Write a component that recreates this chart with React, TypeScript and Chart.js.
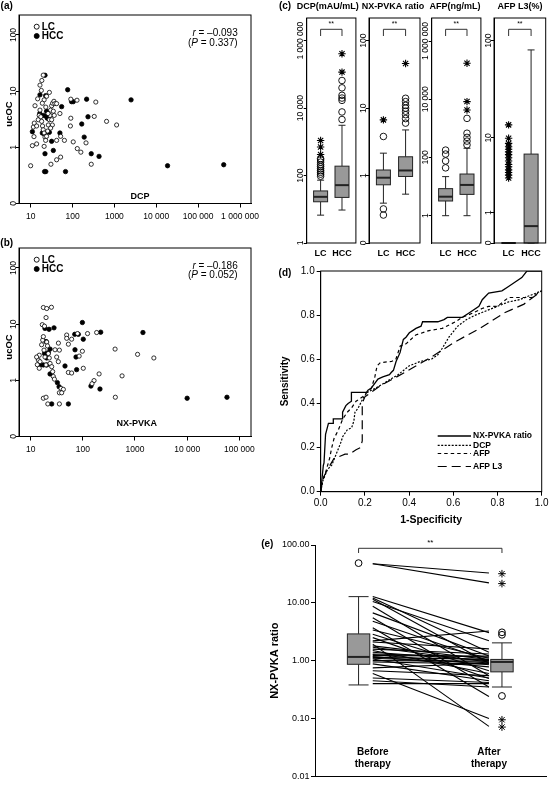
import React, { useEffect, useRef } from "react";
import { Chart, registerables } from "chart.js";

Chart.register(...registerables);

const FONT = "'Liberation Sans', Arial, Helvetica, sans-serif";
Chart.defaults.font.family = FONT;
Chart.defaults.color = "#000";

// ================= DATA =================
// (a) DCP (mAU/mL) vs ucOC  [x, y]
const dcpLC: number[][] = [
  [10, 0.47], [11, 1.07], [13.9, 1.15], [12, 1.55], [11.6, 2.3], [12.2, 2.7], [12.7, 5.5], [14.7, 7.3],
  [16.7, 12.8], [20, 19.3], [18, 10.3], [13.9, 2.4], [15.2, 3.1], [16, 3.7], [16.7, 4.6], [17.5, 3.5],
  [18.3, 2.9], [19.2, 2.4], [20, 2.05], [21, 1.8], [22, 1.52], [22.8, 1.33], [24, 1.57], [25.5, 1.95],
  [26.4, 2.5], [27.9, 3.1], [29, 3.7], [30, 4.6], [31.7, 5.5], [33.5, 6.1], [36, 6.6], [38, 6.0],
  [34.8, 4.4], [36.6, 3.7], [31.7, 3.1], [33, 2.5], [30, 2.2], [28, 9.5], [24, 8.1], [21, 7.0],
  [19, 6.1], [21, 1.04], [30.5, 0.5], [41.7, 0.6], [52, 0.67], [41.7, 1.33], [64, 1.33], [52, 1.57],
  [50, 4.0], [91, 7.2], [128, 6.9], [91, 3.3], [89, 2.4], [104, 1.25], [130, 0.95], [158, 0.82],
  [210, 1.2], [280, 0.5], [330, 3.55], [360, 6.4], [650, 2.9], [1130, 2.5], [41.7, 6.0], [26, 4.0],
  [23, 5.2], [18.5, 15.5],
];
const dcpHCC: number[][] = [
  [22, 19.2], [76.6, 10.6], [16.7, 8.6], [22.8, 8.3], [55, 5.3], [95, 6.5], [104, 6.5], [217, 7.2],
  [2500, 7.0], [234, 3.5], [166, 2.6], [11, 1.9], [19, 1.8], [21, 1.75], [28, 1.85], [50, 1.8],
  [190, 1.52], [31.7, 1.28], [22, 0.77], [34.8, 0.88], [280, 0.77], [430, 0.69], [21.5, 0.37], [23, 0.37],
  [68, 0.37], [18600, 0.47], [408000, 0.49], [23, 3.6], [25, 3.3], [20, 3.7], [16.5, 4.0], [24, 4.4],
];
const dcpStat = ["\u20130.093", "0.337"];

// (b) NX-PVKA vs ucOC
const nxLC: number[][] = [
  [17.5, 19.8], [20.3, 19], [25, 20], [19.7, 13.1], [16.7, 9.8], [18.4, 9.2], [14, 2.3], [15.1, 2.15],
  [14.6, 2.8], [16.2, 4.3], [17, 5.2], [17.5, 6.0], [18, 3.45], [18.8, 2.6], [19.7, 1.88], [20.3, 4.8],
  [21, 4.1], [21.8, 3.0], [22.7, 2.5], [23.5, 2.0], [25.3, 1.75], [26.4, 1.43], [27.2, 1.17], [28.5, 1.05],
  [29.3, 3.5], [31.5, 2.6], [33.9, 2.15], [34, 4.6], [35.5, 3.45], [17.5, 0.48], [19.7, 0.5], [21.3, 0.38],
  [35.5, 0.38], [35.5, 0.6], [38.2, 0.72], [42.3, 0.69], [39.3, 0.6], [49, 6.4], [49, 5.6], [52.8, 4.4],
  [61, 5.4], [79, 6.8], [123, 6.8], [184, 7.1], [52.8, 1.38], [61, 1.35], [102, 1.64], [98, 3.3],
  [85, 2.7], [205, 1.3], [164, 0.99], [150, 0.87], [415, 3.6], [565, 1.2], [420, 0.5], [1120, 2.9],
  [2300, 2.5], [14.6, 1.64], [13.4, 1.9], [13, 2.6],
];
const nxHCC: number[][] = [
  [28, 8.6], [22.5, 8.1], [98, 10.7], [102, 5.4], [70, 6.6], [82, 6.6], [220, 7.2], [1420, 7.1],
  [70.7, 3.5], [74, 2.6], [76, 1.55], [45.5, 1.8], [15.5, 1.9], [17.5, 1.88], [20.3, 1.88], [21.8, 3.1],
  [23.5, 3.6], [18.4, 3.0], [19.7, 4.9], [23.5, 1.3], [32.5, 0.91], [35, 0.77], [143, 0.79], [213, 0.7],
  [25.3, 0.38], [52.8, 0.38], [10000, 0.48], [58000, 0.5], [18.8, 8.4], [20.3, 2.5],
];
const nxStat = ["\u20130.186", "0.052"];

const aXTicks = [10, 100, 1000, 10000, 100000, 1000000];
const aXLabels = ["10", "100", "1000", "10 000", "100 000", "1 000 000"];
const bXTicks = [10, 100, 1000, 10000, 100000];
const bXLabels = ["10", "100", "1000", "10 000", "100 000"];
const ucTicks = [0.1, 1, 10, 100];
const ucLabels = ["0", "1", "10", "100"];

// (c) box plots: [lower whisker, Q1, median, Q3, upper whisker]
const groups = ["LC", "HCC"];
const cTitles = ["DCP(mAU/mL)", "NX-PVKA ratio", "AFP(ng/mL)", "AFP L3(%)"];
const dcpBoxLC = [6.7, 16.7, 23.4, 35, 73];
const dcpBoxHCC = [9.5, 22.5, 52, 190, 3100];
const dcpOutLC = [96, 110, 125, 140, 160, 185, 210, 250, 290, 320];
const dcpOutHCC = [4600, 7700, 17000, 19900, 24000, 40000, 66000];
const dcpExtLC = [420, 700, 1100];
const dcpExtHCC = [117000, 410000];
const nxBoxLC = [0.39, 0.73, 0.93, 1.21, 2.15];
const nxBoxHCC = [0.53, 0.97, 1.19, 1.9, 4.75];
const nxOutLC = [0.26, 0.32, 3.8];
const nxOutHCC = [6, 7, 8, 9, 10, 11, 12.5, 14];
const nxExtLC = [6.7];
const nxExtHCC = [46];
const afpBoxLC = [1, 3.2, 4.5, 8.5, 22];
const afpBoxHCC = [1, 5.4, 11.4, 27, 207];
const afpOutLC = [44, 76, 131, 179];
const afpOutHCC = [270, 365, 490, 680, 2200];
const afpExtLC: number[] = [];
const afpExtHCC = [4270, 8300, 173000];
const l3BoxLC = [0, 0, 0, 0, 0];
const l3BoxHCC = [0, 0, 0.47, 6.6, 80.8];
const l3OutLC: number[] = [];
const l3OutHCC: number[] = [];
const l3ExtLC = [3.4, 3.7, 4, 4.3, 4.7, 5, 5.5, 6, 6.5, 7, 7.5, 8, 8.7, 9.9, 13.8];
const l3ExtHCC: number[] = [];
const dcpTicks = [1, 100, 10000, 1000000];
const dcpLabels = ["1", "100", "10 000", "1 000 000"];
const nxTicks = [0.1, 1, 10, 100];
const nxLabels = ["0", "1", "10", "100"];
const afpTicks = [1, 100, 10000, 1000000];
const afpLabels = ["1", "100", "10 000", "1 000 000"];
const l3Ticks = [0, 1, 10, 100];
const l3Labels = ["0", "1", "10", "100"];

// (d) ROC curves [1-specificity, sensitivity]
const rocNX: number[][] = [
  [0, 0], [0.006, 0.06], [0.012, 0.12], [0.015, 0.13], [0.022, 0.26], [0.035, 0.31], [0.057, 0.31], [0.057, 0.33],
  [0.099, 0.33], [0.099, 0.36], [0.114, 0.39], [0.124, 0.40], [0.139, 0.41], [0.139, 0.45], [0.207, 0.45],
  [0.214, 0.46], [0.229, 0.47], [0.244, 0.49], [0.259, 0.51], [0.281, 0.52], [0.311, 0.53], [0.319, 0.54],
  [0.329, 0.55], [0.341, 0.59], [0.359, 0.63], [0.374, 0.69], [0.386, 0.70], [0.401, 0.72], [0.416, 0.73],
  [0.431, 0.74], [0.454, 0.75], [0.461, 0.77], [0.53, 0.77], [0.558, 0.78], [0.573, 0.79], [0.641, 0.79],
  [0.671, 0.81], [0.716, 0.84], [0.731, 0.87], [0.76, 0.90], [0.82, 0.91], [0.85, 0.93], [0.88, 0.95],
  [0.91, 0.97], [0.933, 1.0], [1, 1],
];
const rocDCP: number[][] = [
  [0, 0], [0.01, 0.05], [0.03, 0.1], [0.05, 0.12], [0.07, 0.17], [0.09, 0.22], [0.1, 0.25], [0.12, 0.28],
  [0.14, 0.29], [0.15, 0.32], [0.155, 0.36], [0.17, 0.38], [0.19, 0.42], [0.21, 0.45], [0.25, 0.47],
  [0.3, 0.5], [0.35, 0.53], [0.4, 0.57], [0.45, 0.59], [0.5, 0.6], [0.53, 0.62], [0.55, 0.65], [0.58, 0.7],
  [0.62, 0.75], [0.66, 0.78], [0.7, 0.8], [0.75, 0.82], [0.8, 0.84], [0.85, 0.86], [0.9, 0.87], [1, 0.91],
];
const rocAFP: number[][] = [
  [0, 0], [0.005, 0.04], [0.02, 0.08], [0.04, 0.15], [0.05, 0.2], [0.06, 0.24], [0.08, 0.28], [0.1, 0.33],
  [0.12, 0.36], [0.14, 0.38], [0.16, 0.41], [0.19, 0.43], [0.21, 0.45], [0.23, 0.47], [0.245, 0.52],
  [0.255, 0.57], [0.27, 0.585], [0.32, 0.59], [0.34, 0.6], [0.36, 0.66], [0.386, 0.67], [0.43, 0.71],
  [0.49, 0.73], [0.55, 0.74], [0.61, 0.77], [0.64, 0.79], [0.69, 0.81], [0.73, 0.83], [0.76, 0.84],
  [0.8, 0.84], [0.85, 0.88], [0.91, 0.88], [0.955, 0.88], [1, 0.91],
];
const rocL3: number[][] = [
  [0, 0], [0.01, 0.06], [0.03, 0.1], [0.06, 0.15], [0.11, 0.17], [0.13, 0.17], [0.16, 0.19], [0.18, 0.2],
  [0.188, 0.23], [0.188, 0.40], [0.2, 0.43], [0.27, 0.48], [0.38, 0.54], [0.5, 0.61], [0.61, 0.68],
  [0.72, 0.74], [0.83, 0.81], [0.92, 0.85], [1, 0.91],
];
const rocNames = ["NX-PVKA ratio", "DCP", "AFP", "AFP L3"];
const rocTicks = [0, 0.2, 0.4, 0.6, 0.8, 1.0];

// (e) NX-PVKA ratio before / after therapy (paired)
const beforeVals = [47.3, 47.3, 12.9, 12.1, 11.5, 10.5, 8.7, 6.7, 5.5, 4.8, 3.7, 3.4, 2.86, 2.5, 2.2, 2.1, 1.93,
  1.8, 1.7, 1.58, 1.5, 1.4, 1.3, 1.28, 1.22, 1.18, 1.14, 1.1, 1.07, 1.0, 0.95, 0.88, 0.75, 0.67, 0.6, 0.5, 0.45, 0.40];
const afterVals = [32.8, 22.1, 3.05, 1.4, 0.9, 2.2, 0.55, 1.2, 0.35, 1.0, 0.24, 1.1, 0.67, 0.49, 3.26, 1.6, 0.073,
  1.05, 0.95, 1.3, 0.6, 1.0, 1.15, 0.85, 1.2, 0.78, 1.05, 0.92, 0.5, 0.98, 0.88, 0.45, 0.9, 0.55, 0.1, 0.42, 0.35, 0.40];
const beforeBox = [0.38, 0.865, 1.16, 2.9, 12.8];
const afterBox = [0.35, 0.64, 0.95, 1.05, 2.03];
const beforeOut = [48.6];
const afterOut = [0.245, 2.8, 3.09];
const afterExt = [0.071, 0.095, 21.5, 31.9];
const eCats = [["Before", "therapy"], ["After", "therapy"]];
const eTicks = [0.01, 0.1, 1, 10, 100];
const eLabels = ["0.01", "0.10", "1.00", "10.00", "100.00"];

// ================= LAYOUT CONSTANTS =================
const ePos = [-0.122, 1.112]; // box positions on the (e) x scale

// ================= PLUGINS =================
type Seg = { t: string; it?: boolean };
type TextItem = { t?: string; segs?: Seg[]; x: number; y: number; size?: number; bold?: boolean; align?: string; rot?: number };

const textsPlugin = (items: TextItem[], id = "texts") => ({
  id,
  afterDraw(chart: any) {
    const ctx = chart.ctx;
    for (const it of items) {
      ctx.save();
      ctx.translate(it.x, it.y);
      if (it.rot) ctx.rotate(it.rot);
      ctx.fillStyle = "#000";
      ctx.textBaseline = "middle";
      ctx.textAlign = "left";
      const segs = it.segs || [{ t: it.t || "" }];
      const f = (s: Seg) => `${s.it ? "italic " : ""}${it.bold ? "bold " : ""}${it.size || 9}px ${FONT}`;
      let total = 0;
      for (const s of segs) { ctx.font = f(s); total += ctx.measureText(s.t).width; }
      const al = it.align || "center";
      let x = al === "left" ? 0 : al === "right" ? -total : -total / 2;
      for (const s of segs) { ctx.font = f(s); ctx.fillText(s.t, x, 0); x += ctx.measureText(s.t).width; }
      ctx.restore();
    }
  },
});

const framePlugin = (id = "frame") => ({
  id,
  afterDraw(chart: any) {
    const { ctx, chartArea: a } = chart;
    ctx.save();
    ctx.strokeStyle = "#000";
    ctx.lineWidth = 1;
    ctx.strokeRect(a.left, a.top, a.right - a.left, a.bottom - a.top);
    ctx.restore();
  },
});

const rotYPlugin = (labels: string[], gap: number, size: number) => ({
  id: "rotY",
  afterDraw(chart: any) {
    const s = chart.scales.y;
    const ctx = chart.ctx;
    ctx.save();
    ctx.font = `${size}px ${FONT}`;
    ctx.fillStyle = "#000";
    ctx.textAlign = "center";
    ctx.textBaseline = "alphabetic";
    s.ticks.forEach((t: any, i: number) => {
      const y = s.getPixelForValue(t.value);
      ctx.save();
      ctx.translate(chart.chartArea.left - gap, y);
      ctx.rotate(-Math.PI / 2);
      ctx.fillText(labels[i], 0, 0);
      ctx.restore();
    });
    ctx.restore();
  },
});

// category labels drawn at the x-scale positions, inside the plot (panel e)
const catLabelsPlugin = (vals: number[], labels: string[][], dy: number, lh: number, size: number) => ({
  id: "cats",
  afterDraw(chart: any) {
    const { ctx, chartArea: a } = chart;
    const xs = chart.scales.x;
    ctx.save();
    ctx.font = `bold ${size}px ${FONT}`;
    ctx.fillStyle = "#000";
    ctx.textAlign = "center";
    ctx.textBaseline = "middle";
    vals.forEach((v, i) => {
      const x = xs.getPixelForValue(v);
      labels[i].forEach((ln, j) => ctx.fillText(ln, x, a.bottom + dy + j * lh));
    });
    ctx.restore();
  },
});

type BoxSpec = { x: number; st: number[] };
const boxPlugin = (specs: BoxSpec[], tf: (v: number) => number, halfPx: number, capPx: number) => ({
  id: "boxes",
  beforeDatasetsDraw(chart: any) {
    const { ctx } = chart;
    const xs = chart.scales.x, ys = chart.scales.y;
    ctx.save();
    for (const b of specs) {
      const cx = xs.getPixelForValue(b.x);
      const [lo, q1, md, q3, hi] = b.st.map((v) => ys.getPixelForValue(tf(v)));
      ctx.strokeStyle = "#222";
      ctx.lineWidth = 1;
      ctx.beginPath();
      ctx.moveTo(cx, q3); ctx.lineTo(cx, hi);
      ctx.moveTo(cx - capPx, hi); ctx.lineTo(cx + capPx, hi);
      ctx.moveTo(cx, q1); ctx.lineTo(cx, lo);
      ctx.moveTo(cx - capPx, lo); ctx.lineTo(cx + capPx, lo);
      ctx.stroke();
      ctx.fillStyle = "#999";
      ctx.fillRect(cx - halfPx, q3, 2 * halfPx, q1 - q3);
      ctx.strokeRect(cx - halfPx, q3, 2 * halfPx, q1 - q3);
      ctx.lineWidth = 2;
      ctx.beginPath();
      ctx.moveTo(cx - halfPx, md); ctx.lineTo(cx + halfPx, md);
      ctx.stroke();
    }
    ctx.restore();
  },
});

const bracketPlugin = (x1: number, x2: number, yOff: number, drop: number, txtOff: number, size: number) => ({
  id: "bracket",
  afterDraw(chart: any) {
    const { ctx, chartArea: a } = chart;
    const xs = chart.scales.x;
    const p1 = xs.getPixelForValue(x1), p2 = xs.getPixelForValue(x2);
    const y = a.top + yOff;
    ctx.save();
    ctx.strokeStyle = "#333";
    ctx.lineWidth = 1;
    ctx.beginPath();
    ctx.moveTo(p1, y + drop); ctx.lineTo(p1, y); ctx.lineTo(p2, y); ctx.lineTo(p2, y + drop);
    ctx.stroke();
    ctx.font = `${size}px ${FONT}`;
    ctx.fillStyle = "#000";
    ctx.textAlign = "center";
    ctx.textBaseline = "middle";
    ctx.fillText("**", (p1 + p2) / 2, a.top + txtOff);
    ctx.restore();
  },
});

const scatterLegend = (dx: number, dy: number, step: number) => ({
  id: "scLegend",
  afterDraw(chart: any) {
    const { ctx, chartArea: a } = chart;
    chart.data.datasets.forEach((ds: any, i: number) => {
      const x = a.left + dx, y = a.top + dy + i * step;
      ctx.save();
      ctx.beginPath();
      ctx.arc(x, y, 2.5, 0, Math.PI * 2);
      ctx.fillStyle = ds.pointBackgroundColor;
      ctx.fill();
      ctx.lineWidth = 0.9;
      ctx.strokeStyle = "#000";
      ctx.stroke();
      ctx.font = `bold 10px ${FONT}`;
      ctx.fillStyle = "#000";
      ctx.textBaseline = "middle";
      ctx.textAlign = "left";
      ctx.fillText(ds.label, x + 5, y + 0.5);
      ctx.restore();
    });
  },
});

const rocLegend = (rows: number[]) => ({
  id: "rocLegend",
  afterDraw(chart: any) {
    const { ctx, chartArea: a } = chart;
    chart.data.datasets.forEach((ds: any, i: number) => {
      const y = a.bottom + rows[i];
      ctx.save();
      ctx.strokeStyle = "#000";
      ctx.lineWidth = ds.borderWidth;
      ctx.setLineDash(ds.borderDash || []);
      ctx.beginPath();
      ctx.moveTo(a.right - 104, y);
      ctx.lineTo(a.right - 70.7, y);
      ctx.stroke();
      ctx.setLineDash([]);
      ctx.font = `bold 8.5px ${FONT}`;
      ctx.fillStyle = "#000";
      ctx.textBaseline = "middle";
      ctx.textAlign = "left";
      ctx.fillText(ds.label, a.right - 68.7, y);
      ctx.restore();
    });
  },
});

// ================= CHART BUILDERS =================
const noPlug = { legend: { display: false }, tooltip: { enabled: false } };

function makeScatter(lc: number[][], hcc: number[][], xmin: number, xmax: number, xt: number[], xl: string[], texts: TextItem[]) {
  return {
    type: "scatter",
    data: {
      datasets: [
        { label: "LC", data: lc.map(([x, y]) => ({ x, y })), pointRadius: 2.1, pointBackgroundColor: "#fff", pointBorderColor: "#000", pointBorderWidth: 0.8 },
        { label: "HCC", data: hcc.map(([x, y]) => ({ x, y })), pointRadius: 2.2, pointBackgroundColor: "#000", pointBorderColor: "#000", pointBorderWidth: 0.8 },
      ],
    },
    options: {
      responsive: false, animation: false, devicePixelRatio: 1,
      layout: { padding: { left: 0, top: 15, right: 24, bottom: 0 } },
      plugins: noPlug,
      scales: {
        x: {
          type: "logarithmic", min: xmin, max: xmax,
          afterBuildTicks: (s: any) => { s.ticks = xt.map((v) => ({ value: v })); },
          afterFit: (s: any) => { s.height = 24.5; },
          ticks: { autoSkip: false, maxRotation: 0, minRotation: 0, font: { size: 8.5 }, padding: 4.5, callback: (_v: any, i: number) => xl[i] },
          grid: { display: true, drawOnChartArea: false, drawTicks: true, tickLength: 4, color: "#000" },
          border: { display: true, color: "#000" },
        },
        y: {
          type: "logarithmic", min: 0.1, max: 227,
          afterBuildTicks: (s: any) => { s.ticks = ucTicks.map((v) => ({ value: v })); },
          afterFit: (s: any) => { s.width = 19; },
          ticks: { color: "rgba(0,0,0,0)", font: { size: 8.5 }, callback: (_v: any, i: number) => ucLabels[i] },
          grid: { display: true, drawOnChartArea: false, drawTicks: true, tickLength: 3, color: "#000" },
          border: { display: true, color: "#000" },
        },
      },
    },
    plugins: [framePlugin(), rotYPlugin(ucLabels, 3.5, 8.5), scatterLegend(17.7, 11.7, 9.3), textsPlugin(texts)],
  };
}

type BoxPanel = {
  boxes: number[][]; outs: number[][]; exts: number[][]; ticks: number[]; labels: string[];
  tf: (v: number) => number; min: number; max: number; axisW: number; rightPad: number; texts: TextItem[];
};

function makeBoxPanel(p: BoxPanel) {
  const tf = p.tf;
  const pts = (arrs: number[][]) => arrs.flatMap((arr, g) => arr.map((v) => ({ x: g + 1, y: tf(v) })));
  return {
    type: "scatter",
    data: {
      datasets: [
        { label: "outlier", data: pts(p.outs), pointStyle: "circle", pointRadius: 3.3, pointBackgroundColor: "rgba(0,0,0,0)", pointBorderColor: "#000", pointBorderWidth: 0.9 },
        { label: "extreme", data: pts(p.exts), pointStyle: "star", pointRadius: 3.7, pointBackgroundColor: "rgba(0,0,0,0)", pointBorderColor: "#000", pointBorderWidth: 1.1 },
      ],
    },
    options: {
      responsive: false, animation: false, devicePixelRatio: 1,
      layout: { padding: { left: 0, top: 18, right: p.rightPad, bottom: 0 } },
      plugins: noPlug,
      scales: {
        x: {
          type: "linear", min: 0.35, max: 2.65,
          afterBuildTicks: (s: any) => { s.ticks = [{ value: 1 }, { value: 2 }]; },
          afterFit: (s: any) => { s.height = 19; },
          ticks: { autoSkip: false, maxRotation: 0, minRotation: 0, font: { size: 9, weight: "bold" }, padding: 4.9, callback: (_v: any, i: number) => groups[i] },
          grid: { display: false, drawTicks: false },
          border: { display: false },
        },
        y: {
          type: "linear", min: p.min, max: p.max,
          afterBuildTicks: (s: any) => { s.ticks = p.ticks.map((v) => ({ value: tf(v) })); },
          afterFit: (s: any) => { s.width = p.axisW; },
          ticks: { color: "rgba(0,0,0,0)", font: { size: 8.5 } },
          grid: { display: true, drawOnChartArea: false, drawTicks: true, tickLength: 3, color: "#000" },
          border: { display: true, color: "#000" },
        },
      },
    },
    plugins: [
      boxPlugin(p.boxes.map((st, g) => ({ x: g + 1, st })), tf, 7, 3.5),
      framePlugin(), rotYPlugin(p.labels, 3.5, 8.5), bracketPlugin(1, 2, 11.3, 6.7, 6, 7), textsPlugin(p.texts),
    ],
  };
}

const lg = (v: number) => Math.log10(v);
const lg1 = (v: number) => Math.log10(v + 1);

const cPanels: { left: number; width: number; cfg: BoxPanel }[] = [
  { left: 278, width: 83, cfg: { boxes: [dcpBoxLC, dcpBoxHCC], outs: [dcpOutLC, dcpOutHCC], exts: [dcpExtLC, dcpExtHCC], ticks: dcpTicks, labels: dcpLabels, tf: lg, min: 0, max: 6.673, axisW: 28.7, rightPad: 3.3,
    texts: [{ t: "(c)", x: 7, y: 6.7, size: 10, bold: true }, { t: cTitles[0], x: 49.7, y: 6.7, size: 9, bold: true }] } },
  { left: 358, width: 72, cfg: { boxes: [nxBoxLC, nxBoxHCC], outs: [nxOutLC, nxOutHCC], exts: [nxExtLC, nxExtHCC], ticks: nxTicks, labels: nxLabels, tf: lg, min: -1, max: 2.337, axisW: 11, rightPad: 10,
    texts: [{ t: cTitles[1], x: 35, y: 6.7, size: 9, bold: true }] } },
  { left: 421, width: 65, cfg: { boxes: [afpBoxLC, afpBoxHCC], outs: [afpOutLC, afpOutHCC], exts: [afpExtLC, afpExtHCC], ticks: afpTicks, labels: afpLabels, tf: lg, min: -0.9375, max: 6.79, axisW: 10.7, rightPad: 3.3,
    texts: [{ t: cTitles[2], x: 34, y: 6.7, size: 9, bold: true }] } },
  { left: 485, width: 66, cfg: { boxes: [l3BoxLC, l3BoxHCC], outs: [l3OutLC, l3OutHCC], exts: [l3ExtLC, l3ExtHCC], ticks: l3Ticks, labels: l3Labels, tf: lg1, min: 0, max: 2.229, axisW: 9, rightPad: 5.3,
    texts: [{ t: cTitles[3], x: 35, y: 6.7, size: 9, bold: true }] } },
];

function makeROC() {
  const mk = (pts: number[][], i: number, dash: number[], w: number) => ({
    label: rocNames[i], data: pts.map(([x, y]) => ({ x, y })), showLine: true, borderColor: "#000", borderWidth: w, borderDash: dash, pointRadius: 0,
  });
  return {
    type: "scatter",
    data: { datasets: [mk(rocNX, 0, [], 1.3), mk(rocDCP, 1, [2, 1.5], 1.2), mk(rocAFP, 2, [3.5, 3], 1.2), mk(rocL3, 3, [9, 5], 1.2)] },
    options: {
      responsive: false, animation: false, devicePixelRatio: 1,
      layout: { padding: { left: 0, top: 9, right: 9.3, bottom: 0 } },
      plugins: noPlug,
      scales: {
        x: {
          type: "linear", min: 0, max: 1,
          afterBuildTicks: (s: any) => { s.ticks = rocTicks.map((v) => ({ value: v })); },
          afterFit: (s: any) => { s.height = 38.3; },
          ticks: { autoSkip: false, maxRotation: 0, minRotation: 0, font: { size: 10 }, padding: 1.6, callback: (v: any) => Number(v).toFixed(1) },
          grid: { display: true, drawOnChartArea: false, drawTicks: true, tickLength: 4, color: "#000" },
          border: { display: true, color: "#000" },
          title: { display: true, text: "1-Specificity", font: { size: 10.5, weight: "bold" }, padding: { top: 0, bottom: 4 } },
        },
        y: {
          type: "linear", min: 0, max: 1,
          afterBuildTicks: (s: any) => { s.ticks = rocTicks.map((v) => ({ value: v })); },
          afterFit: (s: any) => { s.width = 50.7; },
          ticks: { font: { size: 10 }, padding: 2, callback: (v: any) => Number(v).toFixed(1) },
          grid: { display: true, drawOnChartArea: false, drawTicks: true, tickLength: 4, color: "#000" },
          border: { display: true, color: "#000" },
          title: { display: true, text: "Sensitivity", font: { size: 10, weight: "bold" }, padding: { top: 9, bottom: 0 } },
        },
      },
    },
    plugins: [framePlugin(), rocLegend([-55.7, -46.4, -38.2, -25.2]), textsPlugin([{ t: "(d)", x: 15, y: 11, size: 10, bold: true }])],
  };
}

function makeE() {
  const lines = beforeVals.map((b, i) => ({
    label: "pair" + i, data: [{ x: 0, y: b }, { x: 1, y: afterVals[i] }], showLine: true, borderColor: "#000", borderWidth: 1.1, pointRadius: 0,
  }));
  return {
    type: "scatter",
    data: {
      datasets: [
        ...lines,
        {
          label: "outlier",
          data: [...beforeOut.map((v) => ({ x: ePos[0], y: v })), ...afterOut.map((v) => ({ x: ePos[1], y: v }))],
          pointStyle: "circle", pointRadius: 3.4, pointBackgroundColor: "rgba(0,0,0,0)", pointBorderColor: "#000", pointBorderWidth: 1,
        },
        {
          label: "extreme", data: afterExt.map((v) => ({ x: ePos[1], y: v })),
          pointStyle: "star", pointRadius: 3.8, pointBackgroundColor: "rgba(0,0,0,0)", pointBorderColor: "#000", pointBorderWidth: 1,
        },
      ],
    },
    options: {
      responsive: false, animation: false, devicePixelRatio: 1,
      layout: { padding: { left: 0, top: 10, right: 0, bottom: 0 } },
      plugins: noPlug,
      scales: {
        x: {
          type: "linear", min: -0.497, max: 1.491,
          afterBuildTicks: (s: any) => { s.ticks = [{ value: 0 }, { value: 1 }]; },
          afterFit: (s: any) => { s.height = 8.7; },
          ticks: { display: false },
          grid: { display: false, drawTicks: false },
          border: { display: true, color: "#000" },
        },
        y: {
          type: "logarithmic", min: 0.01, max: 100,
          afterBuildTicks: (s: any) => { s.ticks = eTicks.map((v) => ({ value: v })); },
          afterFit: (s: any) => { s.width = 135; },
          ticks: { font: { size: 9 }, padding: 1.5, callback: (_v: any, i: number) => eLabels[i] },
          grid: { display: true, drawOnChartArea: false, drawTicks: true, tickLength: 4, color: "#000" },
          border: { display: true, color: "#000" },
          title: { display: true, text: "NX-PVKA ratio", font: { size: 11, weight: "bold" }, padding: { top: 88.4, bottom: 0 } },
        },
      },
    },
    plugins: [
      boxPlugin([{ x: ePos[0], st: beforeBox }, { x: ePos[1], st: afterBox }], (v) => v, 11.2, 10),
      bracketPlugin(ePos[0], ePos[1], 3.3, 4.7, -2, 8),
      catLabelsPlugin([0, 1], eCats, -24, 12.4, 10),
      textsPlugin([{ t: "(e)", x: 87.3, y: 9, size: 10, bold: true }]),
    ],
  };
}

// ================= COMPONENTS =================
function ChartBox(props: { left: number; top: number; width: number; height: number; make: () => any }) {
  const ref = useRef<HTMLCanvasElement | null>(null);
  useEffect(() => {
    const chart = new Chart(ref.current as HTMLCanvasElement, props.make());
    return () => chart.destroy();
  }, []);
  const { left, top, width, height } = props;
  return (
    <canvas ref={ref} width={width} height={height}
      style={{ position: "absolute", left, top, width, height, display: "block" }} />
  );
}

const statTexts = (stat: string[], rY: number): TextItem[] => [
  { segs: [{ t: "r", it: true }, { t: " = " + stat[0] }], x: 237.7, y: rY, size: 10, align: "right" },
  { segs: [{ t: "(" }, { t: "P", it: true }, { t: " = " + stat[1] + ")" }], x: 237.7, y: rY + 9.5, size: 10, align: "right" },
];

export default function App() {
  return (
    <div style={{ position: "absolute", left: 0, top: 0, width: 551, height: 785, overflow: "hidden", background: "#fff" }}>
      <ChartBox left={0} top={0} width={275} height={228}
        make={() => makeScatter(dcpLC, dcpHCC, 5.27, 1.83e6, aXTicks, aXLabels, [
          { t: "(a)", x: 6.7, y: 6, size: 10, bold: true },
          { t: "ucOC", x: 9.5, y: 114, size: 9.5, bold: true, rot: -Math.PI / 2 },
          { t: "DCP", x: 140, y: 196.7, size: 9, bold: true },
          ...statTexts(dcpStat, 33.3),
        ])} />
      <ChartBox left={0} top={233} width={275} height={228}
        make={() => makeScatter(nxLC, nxHCC, 5.97, 1.676e5, bXTicks, bXLabels, [
          { t: "(b)", x: 6.7, y: 10.3, size: 10, bold: true },
          { t: "ucOC", x: 9.5, y: 114, size: 9.5, bold: true, rot: -Math.PI / 2 },
          { t: "NX-PVKA", x: 136.7, y: 190.3, size: 9, bold: true },
          ...statTexts(nxStat, 33),
        ])} />
      {cPanels.map((p, i) => (
        <ChartBox key={i} left={p.left} top={0} width={p.width} height={262} make={() => makeBoxPanel(p.cfg)} />
      ))}
      <ChartBox left={270} top={262} width={281} height={268} make={makeROC} />
      <ChartBox left={180} top={535} width={371} height={250} make={makeE} />
    </div>
  );
}
